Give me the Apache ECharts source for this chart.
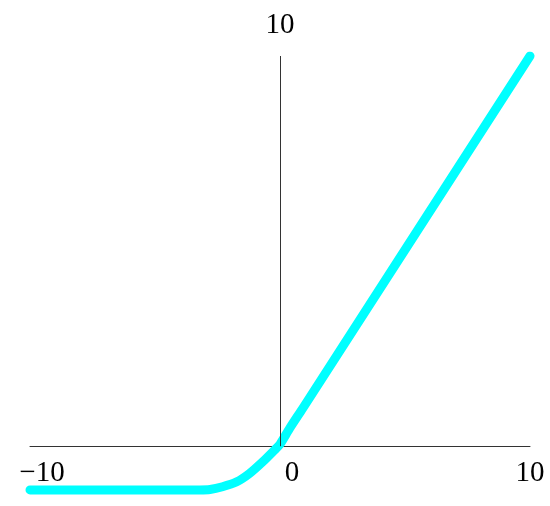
<!DOCTYPE html>
<html>
<head>
<meta charset="utf-8">
<script src="https://cdn.jsdelivr.net/npm/echarts@6/dist/echarts.min.js"></script>
<style>
  html, body { margin: 0; padding: 0; background: #fff; }
  #chart { width: 550px; height: 506px; }
</style>
</head>
<body>
<div id="chart"></div>
<script>
// points
var xValues = [-10, -4, -3.2, -2.8, -2.3, -1.75, -1.22, -0.69, -0.22, 0, 0.38, 0.91, 10];
var yValues = [-1.12, -1.12, -1.12, -1.11, -1.04, -0.92, -0.70, -0.40, -0.10, 0.05, 0.45, 0.97, 10];
var xTicks = [-10, 0, 10];
var yTop = 10;

var dom = document.getElementById('chart');
var chart = echarts.init(dom);
var font = '"Liberation Serif", "DejaVu Serif", serif';

var points = xValues.map(function (x, i) {
    return [x, yValues[i]];
});

// tick labels sit under the horizontal axis; -10 and 0 are nudged right like the original
var tickLabels = xTicks.map(function (x) {
    return {
        value: [x, 0],
        label: {offset: [x < 10 ? 12 : 0, 0]}
    };
});

var option = {
    animation: false,
    grid: {left: 30, right: 20, top: 56, bottom: 13, containLabel: false},
    xAxis: {
        type: 'value',
        min: -10,
        max: 10,
        interval: 10,
        axisLine: {onZero: true, lineStyle: {color: '#333', width: 1}},
        axisTick: {show: false},
        splitLine: {show: false},
        axisLabel: {show: false}
    },
    yAxis: {
        type: 'value',
        min: -1.2,
        max: 10,
        axisLine: {show: false},
        axisTick: {show: false},
        axisLabel: {show: false},
        splitLine: {show: false}
    },
    series: [
        {
            type: 'line',
            data: points,
            showSymbol: false,
            smooth: 0.25,
            lineStyle: {color: '#00FFFF', width: 9, cap: 'round', join: 'round'},
            markLine: {
                silent: true,
                symbol: 'none',
                lineStyle: {color: '#333', width: 1, type: 'solid'},
                label: {
                    show: true,
                    position: 'end',
                    distance: 16,
                    formatter: String(yTop),
                    fontFamily: font,
                    fontSize: 29,
                    color: '#000'
                },
                data: [[{coord: [0, 0]}, {coord: [0, yTop]}]]
            },
            z: 3
        },
        {
            type: 'scatter',
            data: tickLabels,
            symbolSize: 0,
            silent: true,
            itemStyle: {opacity: 1},
            label: {
                show: true,
                position: 'bottom',
                distance: 13,
                fontFamily: font,
                fontSize: 29,
                color: '#000',
                opacity: 1,
                formatter: function (p) {
                    var v = p.value[0];
                    return v < 0 ? '\u2212' + Math.abs(v) : String(v);
                }
            },
            z: 4
        }
    ]
};
chart.setOption(option);
</script>
</body>
</html>
